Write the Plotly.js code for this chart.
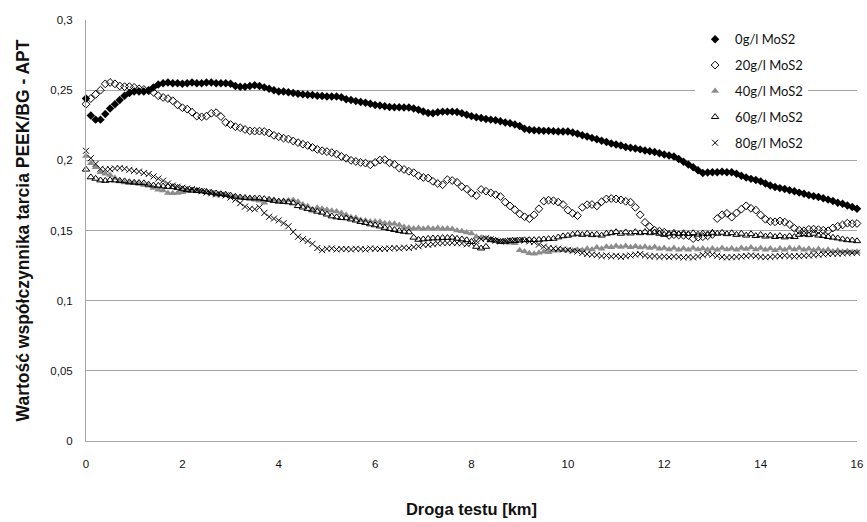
<!DOCTYPE html>
<html>
<head>
<meta charset="utf-8">
<script src="https://cdn.plot.ly/plotly-3.0.1.min.js"></script>
<style>
  html, body { margin: 0; padding: 0; background: #ffffff; }
  #chart { width: 867px; height: 522px; }
</style>
</head>
<body>
<div id="chart"></div>
<script>
const distKm = [0,0.1,0.2,0.3,0.4,0.5,0.6,0.7,0.8,0.9,1,1.1,1.2,1.3,1.4,1.5,1.6,1.7,1.8,1.9,2,2.1,2.2,2.3,2.4,2.5,2.6,2.7,2.8,2.9,3,3.1,3.2,3.3,3.4,3.5,3.6,3.7,3.8,3.9,4,4.1,4.2,4.3,4.4,4.5,4.6,4.7,4.8,4.9,5,5.1,5.2,5.3,5.4,5.5,5.6,5.7,5.8,5.9,6,6.1,6.2,6.3,6.4,6.5,6.6,6.7,6.8,6.9,7,7.1,7.2,7.3,7.4,7.5,7.6,7.7,7.8,7.9,8,8.1,8.2,8.3,8.4,8.5,8.6,8.7,8.8,8.9,9,9.1,9.2,9.3,9.4,9.5,9.6,9.7,9.8,9.9,10,10.1,10.2,10.3,10.4,10.5,10.6,10.7,10.8,10.9,11,11.1,11.2,11.3,11.4,11.5,11.6,11.7,11.8,11.9,12,12.1,12.2,12.3,12.4,12.5,12.6,12.7,12.8,12.9,13,13.1,13.2,13.3,13.4,13.5,13.6,13.7,13.8,13.9,14,14.1,14.2,14.3,14.4,14.5,14.6,14.7,14.8,14.9,15,15.1,15.2,15.3,15.4,15.5,15.6,15.7,15.8,15.9,16];

const seriesNames = ["0g/l MoS2", "20g/l MoS2", "40g/l MoS2", "60g/l MoS2", "80g/l MoS2"];

const mos2_0 = [0.244,0.232,0.229,0.229,0.233,0.237,0.240,0.243,0.246,0.248,0.249,0.249,0.249,0.250,0.252,0.254,0.255,0.2555,0.255,0.255,0.2545,0.255,0.2555,0.255,0.255,0.2555,0.2555,0.255,0.255,0.255,0.2545,0.253,0.2525,0.2525,0.253,0.2535,0.253,0.252,0.251,0.250,0.249,0.249,0.2485,0.248,0.2475,0.247,0.2468,0.2465,0.246,0.2458,0.2455,0.2455,0.2455,0.245,0.2435,0.243,0.2422,0.2415,0.241,0.2403,0.2395,0.239,0.2385,0.238,0.2378,0.2378,0.2376,0.2376,0.237,0.236,0.2348,0.2338,0.2335,0.2342,0.2347,0.2347,0.2347,0.2345,0.2335,0.2325,0.2315,0.2307,0.2302,0.2295,0.229,0.2285,0.2278,0.227,0.2265,0.2255,0.2245,0.2225,0.2218,0.2215,0.2212,0.221,0.221,0.2208,0.2205,0.2205,0.2205,0.2198,0.219,0.2178,0.217,0.216,0.215,0.214,0.213,0.212,0.2113,0.2105,0.2095,0.209,0.2085,0.2078,0.207,0.2065,0.206,0.205,0.2042,0.2035,0.2027,0.201,0.199,0.197,0.195,0.193,0.191,0.1913,0.1915,0.1915,0.1918,0.1915,0.1915,0.1905,0.189,0.1878,0.1868,0.186,0.185,0.1835,0.182,0.181,0.1802,0.1795,0.1787,0.178,0.177,0.1762,0.1752,0.1745,0.1738,0.173,0.172,0.171,0.1698,0.169,0.1678,0.1668,0.1655];

const mos2_20 = [0.240,0.244,0.247,0.250,0.2545,0.2555,0.2545,0.253,0.2525,0.2525,0.252,0.251,0.2505,0.2495,0.2485,0.246,0.2448,0.244,0.2425,0.2395,0.2375,0.2365,0.2343,0.2315,0.231,0.2315,0.2335,0.234,0.2312,0.227,0.2255,0.224,0.2232,0.222,0.221,0.2208,0.2208,0.2205,0.2195,0.2178,0.2168,0.2158,0.2152,0.2138,0.2126,0.2115,0.2106,0.2092,0.2078,0.2068,0.2062,0.2055,0.2045,0.2028,0.2015,0.200,0.1992,0.1985,0.198,0.1968,0.1985,0.2002,0.2005,0.1982,0.1972,0.1945,0.1935,0.1922,0.1912,0.189,0.1878,0.1874,0.185,0.1835,0.1826,0.1862,0.1856,0.1843,0.1812,0.1796,0.1765,0.1749,0.1792,0.178,0.1768,0.1755,0.1742,0.1702,0.1675,0.1648,0.1618,0.1598,0.1584,0.1612,0.1655,0.1709,0.1716,0.1712,0.1702,0.1685,0.1645,0.1622,0.1606,0.1665,0.1684,0.1685,0.1675,0.1705,0.1725,0.1728,0.1725,0.1718,0.1708,0.1702,0.1665,0.1612,0.1558,0.1528,0.1502,0.1495,0.1488,0.1465,0.147,0.1468,0.1466,0.1464,0.1442,0.1452,0.1456,0.1462,0.1472,0.1585,0.1612,0.1622,0.1595,0.1625,0.1652,0.1676,0.1658,0.1645,0.161,0.158,0.1565,0.1562,0.1568,0.156,0.1545,0.1516,0.1502,0.1498,0.1508,0.151,0.1506,0.1502,0.1498,0.1518,0.153,0.154,0.1552,0.1548,0.155];

const mos2_40 = [0.203,0.198,0.195,0.1915,0.1905,0.1895,0.1875,0.185,0.1842,0.1838,0.1838,0.1832,0.1825,0.1818,0.1802,0.179,0.1785,0.1768,0.1765,0.1768,0.1772,0.178,0.1788,0.1785,0.178,0.178,0.1772,0.1755,0.1758,0.1752,0.174,0.1738,0.1732,0.173,0.1728,0.172,0.1712,0.1698,0.1715,0.172,0.171,0.1712,0.1715,0.1718,0.1705,0.1685,0.1672,0.165,0.1662,0.1655,0.1648,0.164,0.1635,0.1625,0.161,0.1595,0.159,0.1575,0.1572,0.1565,0.1565,0.1562,0.1552,0.155,0.1548,0.154,0.1525,0.152,0.1515,0.1518,0.1512,0.1518,0.1512,0.1518,0.1512,0.1515,0.151,0.150,0.1495,0.1485,0.1478,0.1455,0.145,0.1445,0.1435,0.143,0.142,0.1415,0.1412,0.141,0.136,0.135,0.1338,0.1335,0.1342,0.1348,0.1345,0.1355,0.1358,0.136,0.1358,0.1355,0.1362,0.136,0.137,0.1365,0.1378,0.137,0.1385,0.138,0.139,0.1382,0.139,0.138,0.1388,0.1378,0.1385,0.1375,0.1382,0.137,0.1375,0.1365,0.1375,0.1362,0.1372,0.1362,0.1375,0.1365,0.1372,0.1362,0.1372,0.1362,0.1375,0.1365,0.1372,0.1362,0.1375,0.1368,0.1378,0.1365,0.1375,0.1362,0.1372,0.136,0.1372,0.1362,0.1375,0.1365,0.1375,0.1362,0.137,0.136,0.1368,0.1355,0.1362,0.135,0.1358,0.1348,0.1352,0.1345,0.1348];

const mos2_60 = [0.1935,0.188,0.187,0.1858,0.1855,0.186,0.1858,0.1855,0.1852,0.1845,0.1842,0.184,0.1838,0.1828,0.1822,0.182,0.1815,0.1812,0.181,0.1805,0.1795,0.179,0.1785,0.1782,0.178,0.1775,0.177,0.1765,0.176,0.1756,0.175,0.1742,0.1737,0.1733,0.173,0.173,0.173,0.1725,0.172,0.1712,0.1707,0.1705,0.1702,0.1695,0.1675,0.1665,0.1655,0.1645,0.1635,0.1628,0.1615,0.1602,0.1595,0.159,0.1588,0.158,0.1572,0.1562,0.1555,0.1545,0.1538,0.153,0.152,0.1512,0.1505,0.1498,0.1492,0.1488,0.145,0.1435,0.1438,0.1442,0.1445,0.1445,0.1448,0.1448,0.145,0.1442,0.1438,0.1432,0.142,0.1385,0.1373,0.1385,0.1432,0.1428,0.142,0.1422,0.1425,0.1426,0.143,0.1432,0.1433,0.1433,0.1435,0.1438,0.144,0.1442,0.1452,0.146,0.1464,0.1472,0.1478,0.147,0.1478,0.1468,0.1472,0.1465,0.1478,0.1482,0.149,0.1478,0.1488,0.148,0.149,0.1482,0.149,0.1482,0.1488,0.1478,0.147,0.1478,0.1485,0.1475,0.1482,0.1475,0.1482,0.1472,0.148,0.1475,0.1485,0.1478,0.1485,0.1475,0.1482,0.147,0.1478,0.1465,0.1475,0.1462,0.147,0.1458,0.1465,0.1455,0.1462,0.1452,0.146,0.1455,0.147,0.1475,0.1468,0.1478,0.1465,0.1462,0.1455,0.145,0.1445,0.1438,0.1432,0.143,0.1425];

const mos2_80 = [0.2068,0.2015,0.1975,0.194,0.1935,0.1937,0.1942,0.1945,0.194,0.1932,0.1925,0.192,0.191,0.1902,0.1885,0.187,0.1855,0.1835,0.182,0.1812,0.1805,0.18,0.1795,0.1788,0.178,0.177,0.1765,0.1758,0.1755,0.175,0.1735,0.172,0.1695,0.167,0.1655,0.1652,0.1665,0.1625,0.1598,0.1585,0.1572,0.1552,0.153,0.149,0.1455,0.1438,0.1425,0.1405,0.1375,0.136,0.137,0.1372,0.1365,0.1368,0.1368,0.1365,0.137,0.1368,0.1365,0.1372,0.137,0.1368,0.137,0.1372,0.1375,0.1372,0.1378,0.1375,0.1382,0.1388,0.1398,0.1398,0.1402,0.1408,0.141,0.141,0.1412,0.141,0.1408,0.1402,0.1408,0.1425,0.1438,0.1445,0.1438,0.1428,0.1422,0.1425,0.143,0.1432,0.1432,0.1428,0.1422,0.1418,0.14,0.1385,0.1375,0.1372,0.137,0.1365,0.1362,0.1355,0.135,0.134,0.1332,0.1328,0.1325,0.1318,0.1322,0.1315,0.132,0.1312,0.1318,0.1322,0.1328,0.1332,0.1322,0.1315,0.1318,0.1312,0.1315,0.131,0.1315,0.1312,0.1308,0.1312,0.1308,0.1315,0.1325,0.1332,0.1328,0.132,0.1312,0.1308,0.131,0.1312,0.1315,0.1318,0.1322,0.1318,0.1312,0.131,0.1312,0.1315,0.1318,0.1322,0.1318,0.1315,0.1318,0.132,0.1322,0.1325,0.1328,0.133,0.1332,0.1335,0.1335,0.1338,0.134,0.134,0.1342];

const xTickVals = [0, 2, 4, 6, 8, 10, 12, 14, 16];
const yTickVals = [0, 0.05, 0.1, 0.15, 0.2, 0.25, 0.3];
const yTickText = ["0", "0,05", "0,1", "0,15", "0,2", "0,25", "0,3"];

const allSeries = [mos2_0, mos2_20, mos2_40, mos2_60, mos2_80];
const markerStyles = [
  {symbol: "diamond", color: "#000000", size: 6.5, line: {width: 0}},
  {symbol: "diamond-open", color: "#000000", size: 6, line: {width: 1, color: "#000000"}},
  {symbol: "triangle-up", color: "#8c8c8c", size: 7, line: {width: 0}},
  {symbol: "triangle-up-open", color: "#000000", size: 6.5, line: {width: 1, color: "#000000"}},
  {symbol: "x-thin-open", color: "#000000", size: 6, line: {width: 1, color: "#000000"}}
];

const axisFont = "Arial, 'Liberation Sans', sans-serif";

const traces = allSeries.map((ys, i) => ({
  type: "scatter",
  mode: "markers",
  name: seriesNames[i],
  legendgroup: "g" + i,
  x: distKm,
  y: ys,
  marker: markerStyles[i],
  cliponaxis: false
}));

const layout = {
  width: 867,
  height: 522,
  margin: {l: 86, r: 10, t: 20, b: 81},
  paper_bgcolor: "#ffffff",
  plot_bgcolor: "#ffffff",
  font: {family: axisFont, size: 11.5, color: "#111111"},
  showlegend: true,
  legend: {
    x: 0.79, y: 0.99, xanchor: "left", yanchor: "top",
    bgcolor: "#ffffff",
    font: {family: "Lato, 'Open Sans', sans-serif", size: 13, color: "#111111"},
    tracegroupgap: 6,
    traceorder: "grouped",
    itemwidth: 30
  },
  xaxis: {
    range: [0, 16],
    tickvals: xTickVals,
    showgrid: false,
    zeroline: false,
    showline: true,
    linecolor: "#a6a6a6",
    linewidth: 1,
    ticks: "",
    ticklabelstandoff: 12,
    tickfont: {size: 11.5, family: axisFont},
    title: {text: "<b>Droga testu [km]</b>", font: {size: 16.5, family: axisFont}, standoff: 34}
  },
  yaxis: {
    range: [0, 0.3],
    tickvals: yTickVals,
    ticktext: yTickText,
    showgrid: true,
    gridcolor: "#a6a6a6",
    gridwidth: 1,
    zeroline: false,
    showline: true,
    linecolor: "#a6a6a6",
    linewidth: 1,
    ticks: "",
    ticklabelstandoff: 10,
    tickfont: {size: 11.5, family: axisFont},
    title: {text: "<b>Wartość współczynnika tarcia PEEK/BG - APT</b>", font: {size: 17.5, family: axisFont}, standoff: 16}
  }
};

Plotly.newPlot("chart", traces, layout, {displayModeBar: false, staticPlot: true});
</script>
</body>
</html>
